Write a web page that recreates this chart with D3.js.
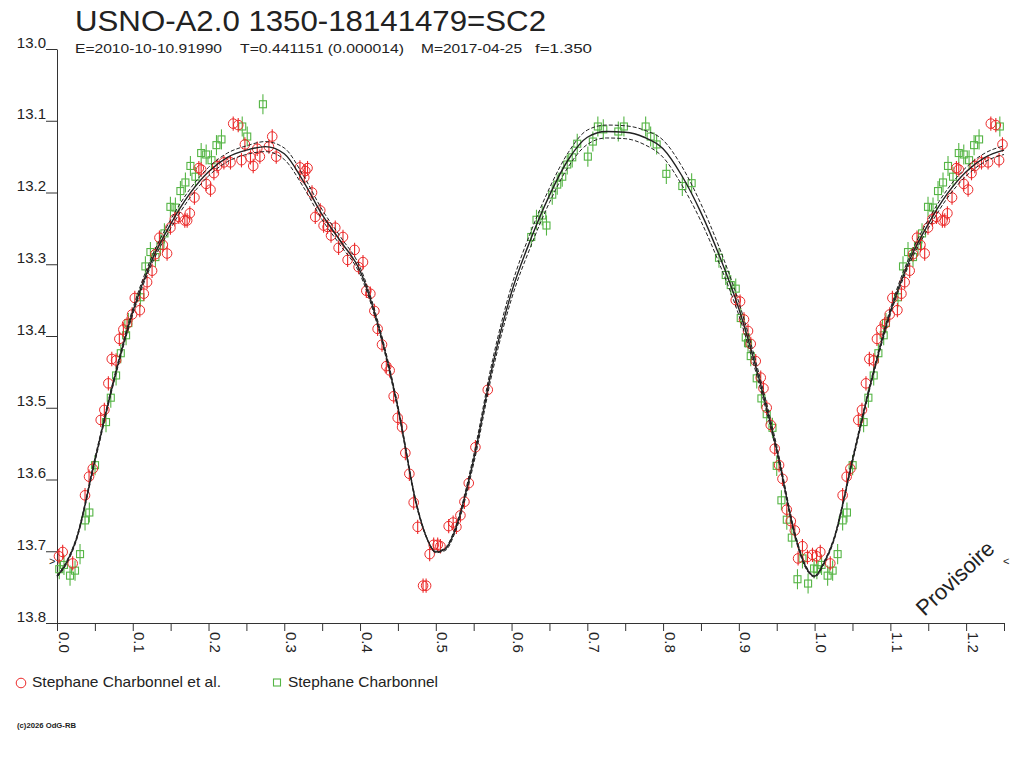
<!DOCTYPE html>
<html>
<head>
<meta charset="utf-8">
<script src="https://cdn.jsdelivr.net/npm/d3@7"></script>
<style>
  body { margin: 0; background: #fff; }
  svg { display: block; }
  text { font-family: "Liberation Sans", Arial, sans-serif; fill: #222; }
</style>
</head>
<body>
<svg id="chart" width="1024" height="768"></svg>
<script>
// tick labels
const yTicks = [13.0, 13.1, 13.2, 13.3, 13.4, 13.5, 13.6, 13.7, 13.8];
const xTicks = [0.0, 0.1, 0.2, 0.3, 0.4, 0.5, 0.6, 0.7, 0.8, 0.9, 1.0, 1.1, 1.2];

// legend names
const seriesNames = ["Stephane Charbonnel et al.", "Stephane Charbonnel"];

// observations [phase, magnitude]
const redObs = [
  [.0026,13.707],[.0075,13.701],[.0207,13.717],[.0370,13.622],[.0423,13.596],[.0472,13.585],
  [.0577,13.517],[.0625,13.503],[.0678,13.466],[.0723,13.432],[.078,13.434],[.0823,13.404],
  [.0876,13.391],[.0925,13.383],[.0991,13.370],[.1027,13.347],[.1093,13.364],[.1146,13.341],
  [.1189,13.325],[.1255,13.309],[.1299,13.286],[.1352,13.263],[.1397,13.273],[.1453,13.285],
  [.1497,13.249],[.1555,13.237],[.1608,13.234],[.1687,13.239],[.1718,13.239],[.1753,13.229],
  [.1814,13.207],[.1872,13.166],[.1903,13.168],[.1969,13.188],[.2026,13.196],[.2071,13.173],
  [.2114,13.163],[.2203,13.158],[.229,13.158],[.2326,13.104],[.2392,13.106],[.248,13.133],
  [.2435,13.155],[.2554,13.151],[.259,13.163],[.2643,13.139],[.2678,13.150],[.2797,13.136],
  [.2841,13.122],[.2894,13.150],[.3207,13.165],[.3277,13.170],[.3264,13.179],[.3307,13.166],
  [.3366,13.200],[.3475,13.225],[.3409,13.234],[.3519,13.246],[.3572,13.248],[.3673,13.249],
  [.3617,13.260],[.3775,13.262],[.3717,13.277],[.3928,13.280],[.3836,13.294],[.4039,13.297],
  [.3981,13.304],[.4083,13.337],[.4136,13.341],[.4189,13.365],[.4232,13.390],[.4290,13.412],
  [.4347,13.442],[.4391,13.448],[.4444,13.484],[.4497,13.514],[.4555,13.527],[.4598,13.563],
  [.4651,13.592],[.4708,13.632],[.4761,13.666],[.4919,13.704],[.4832,13.748],[.4872,13.748],
  [.4972,13.691],[.5025,13.691],[.5061,13.693],[.517,13.665],[.5229,13.660],[.5272,13.666],
  [.5325,13.650],[.5378,13.631],[.5435,13.605],[.5523,13.555],[.5686,13.475],
  [.8959,13.350],[.9016,13.352],[.9068,13.377],[.9121,13.393],[.9157,13.411],[.9223,13.435],
  [.9289,13.458],[.9325,13.473],[.9368,13.500],[.9421,13.524],[.9474,13.557],[.9531,13.580],
  [.9576,13.599],[.9633,13.642],[.9686,13.658],[.9739,13.671],[.984,13.693],[.9782,13.710],
  [.9906,13.708],[.9972,13.705]
];
const greenObs = [
  [.0030,13.725],[.0092,13.719],[.0172,13.734],[.0238,13.727],[.0304,13.704],[.0370,13.657],
  [.0427,13.646],[.0502,13.580],[.0647,13.520],[.0710,13.486],[.078,13.455],[.0842,13.424],
  [.0912,13.399],[.0942,13.382],[.1101,13.346],[.1167,13.303],[.1233,13.283],[.1299,13.290],
  [.1365,13.274],[.1418,13.257],[.1497,13.220],[.1563,13.221],[.1629,13.198],[.1695,13.186],
  [.1761,13.163],[.1827,13.178],[.1903,13.145],[.1969,13.147],[.2039,13.155],[.2105,13.134],
  [.2171,13.126],[.2445,13.108],[.2511,13.122],[.2718,13.077],
  [.626,13.262],[.6329,13.238],[.6405,13.232],[.6461,13.246],[.6537,13.203],[.6603,13.189],
  [.6669,13.178],[.6735,13.161],[.6801,13.151],[.6867,13.132],[.7007,13.150],[.7073,13.129],
  [.7139,13.108],[.7211,13.112],[.7409,13.115],[.7483,13.108],[.777,13.108],[.7836,13.122],
  [.7915,13.133],[.8043,13.174],[.8254,13.191],[.8377,13.187],[.8738,13.291],[.8827,13.315],
  [.8893,13.329],[.8959,13.334],[.9025,13.375],[.9091,13.402],[.9121,13.410],[.9157,13.428],
  [.9236,13.459],[.9298,13.487],[.9368,13.509],[.9444,13.528],[.95,13.581],[.9562,13.629],
  [.9633,13.656],[.9699,13.681],[.9774,13.739],[.9914,13.745],[.984,13.710],[.9993,13.724]
];
const redErr = 0.010;
const greenErr = 0.014;

// fitted light curve (solid) and its envelope (dashed)
const modelPhase = [0,.0125,.025,.05,.075,.1,.125,.15,.175,.2,.225,.25,.275,.3,.325,.35,.375,.4,.425,.45,
  .475,.4875,.5,.5125,.525,.55,.575,.6,.625,.65,.675,.7,.725,.75,.775,.8,.825,.85,.875,.9,.925,.95,.975,.9875,1];
const modelMid = [13.735,13.716,13.685,13.573,13.462,13.366,13.295,13.244,13.202,13.171,13.151,13.141,13.136,13.146,
  13.184,13.231,13.269,13.309,13.389,13.500,13.637,13.680,13.701,13.697,13.672,13.572,13.441,13.339,13.266,13.204,
  13.154,13.123,13.115,13.116,13.123,13.139,13.177,13.228,13.290,13.362,13.453,13.558,13.681,13.720,13.735];
const modelUp = [13.734,13.714,13.683,13.570,13.459,13.362,13.290,13.238,13.196,13.165,13.145,13.135,13.129,13.138,
  13.176,13.224,13.263,13.304,13.385,13.497,13.635,13.679,13.700,13.695,13.669,13.566,13.433,13.330,13.256,13.194,
  13.144,13.113,13.106,13.107,13.113,13.127,13.164,13.216,13.279,13.353,13.446,13.553,13.678,13.718,13.734];
const modelLow = [13.736,13.718,13.687,13.576,13.465,13.370,13.300,13.250,13.208,13.177,13.157,13.147,13.143,13.154,
  13.192,13.238,13.275,13.314,13.393,13.503,13.639,13.681,13.702,13.699,13.675,13.578,13.449,13.348,13.276,13.214,
  13.164,13.133,13.124,13.125,13.133,13.151,13.190,13.240,13.301,13.371,13.460,13.563,13.684,13.722,13.736];

const red = "#ec2a2a";
const green = "#55b545";
const ink = "#222";

const svg = d3.select("#chart");
const x = d3.scaleLinear().domain([0, 1.25]).range([57, 1004]);
const y = d3.scaleLinear().domain([13.0, 13.8]).range([49, 623]);

// phases 0..0.25 are repeated after 1.0
const wrap = d => d[0] <= 0.25 ? [d, [d[0] + 1, d[1]]] : [d];
const redAll = redObs.flatMap(wrap);
const greenAll = greenObs.flatMap(wrap);
function extend(mags) {
  const pts = modelPhase.map((p, i) => [p, mags[i]]);
  return pts.concat(pts.filter(d => d[0] > 0 && d[0] <= 0.25).map(d => [d[0] + 1, d[1]]));
}

// Title
svg.append("text").attr("x", 75).attr("y", 31)
  .attr("font-size", 29).attr("textLength", 471).attr("lengthAdjust", "spacingAndGlyphs")
  .text("USNO-A2.0 1350-18141479=SC2");
const sub = [
  ["E=2010-10-10.91990", 75, 147],
  ["T=0.441151 (0.000014)", 240, 164],
  ["M=2017-04-25", 421, 101],
  ["f=1.350", 535, 57]
];
svg.selectAll(".sub").data(sub).enter().append("text")
  .attr("x", d => d[1]).attr("y", 53).attr("font-size", 13).attr("fill", "#333")
  .attr("textLength", d => d[2]).attr("lengthAdjust", "spacingAndGlyphs")
  .text(d => d[0]);

// Y axis
const yAxis = svg.append("g").attr("transform", "translate(57,0)")
  .call(d3.axisLeft(y).tickValues(yTicks).tickSize(11).tickSizeOuter(0).tickFormat(d3.format(".1f")));
yAxis.select(".domain").attr("stroke", "#333");
yAxis.selectAll(".tick line").attr("stroke", "#333");
yAxis.selectAll(".tick text")
  .attr("x", -11).attr("dy", -2).attr("font-size", 15).attr("fill", "#333")
  .style("font-family", "'Liberation Sans', Arial, sans-serif");

// X axis
const xMinor = d3.range(0, 26).map(i => i * 0.05);
const xAxis = svg.append("g").attr("transform", "translate(0,623)")
  .call(d3.axisBottom(x).tickValues(xMinor).tickSize(8).tickSizeOuter(0)
    .tickFormat(d => xTicks.some(t => Math.abs(t - d) < 1e-6) ? d3.format(".1f")(d) : ""));
xAxis.select(".domain").attr("stroke", "#333");
xAxis.selectAll(".tick line").attr("stroke", "#333");
xAxis.selectAll(".tick text")
  .attr("transform", "rotate(90)").attr("x", 9).attr("y", -1).attr("dy", 0)
  .attr("text-anchor", "start").attr("font-size", 15).attr("fill", "#333")
  .style("font-family", "'Liberation Sans', Arial, sans-serif");

// Observations: green squares
const gG = svg.append("g");
gG.selectAll("line").data(greenAll).enter().append("line")
  .attr("x1", d => x(d[0])).attr("x2", d => x(d[0]))
  .attr("y1", d => y(d[1] - greenErr)).attr("y2", d => y(d[1] + greenErr))
  .attr("stroke", green).attr("stroke-width", 1.1);
gG.selectAll("rect").data(greenAll).enter().append("rect")
  .attr("x", d => x(d[0]) - 3.5).attr("y", d => y(d[1]) - 3.5)
  .attr("width", 7).attr("height", 7)
  .attr("fill", "none").attr("stroke", green).attr("stroke-width", 1.1);

// Observations: red circles
const gR = svg.append("g");
gR.selectAll("line").data(redAll).enter().append("line")
  .attr("x1", d => x(d[0])).attr("x2", d => x(d[0]))
  .attr("y1", d => y(d[1] - redErr)).attr("y2", d => y(d[1] + redErr))
  .attr("stroke", red).attr("stroke-width", 1.1);
gR.selectAll("circle").data(redAll).enter().append("circle")
  .attr("cx", d => x(d[0])).attr("cy", d => y(d[1])).attr("r", 4.8)
  .attr("fill", "none").attr("stroke", red).attr("stroke-width", 1);

// Model curves
const line = d3.line().x(d => x(d[0])).y(d => y(d[1])).curve(d3.curveMonotoneX);
[modelUp, modelLow].forEach(m => {
  svg.append("path").datum(extend(m)).attr("d", line)
    .attr("fill", "none").attr("stroke", ink).attr("stroke-width", 1)
    .attr("stroke-dasharray", "4,2");
});
svg.append("path").datum(extend(modelMid)).attr("d", line)
  .attr("fill", "none").attr("stroke", ink).attr("stroke-width", 1.4);

// Side markers
svg.append("text").attr("x", 49).attr("y", 565).attr("font-size", 11).text(">");
svg.append("text").attr("x", 1003).attr("y", 565).attr("font-size", 11).text("<");

// Provisoire
svg.append("text").attr("transform", "translate(955,578) rotate(-43)")
  .attr("text-anchor", "middle").attr("dy", "0.35em").attr("font-size", 22)
  .text("Provisoire");

// Legend
svg.append("circle").attr("cx", 21).attr("cy", 683).attr("r", 4.8)
  .attr("fill", "none").attr("stroke", red).attr("stroke-width", 1);
svg.append("text").attr("x", 32).attr("y", 687).attr("font-size", 14.5)
  .attr("textLength", 189).attr("lengthAdjust", "spacingAndGlyphs").text(seriesNames[0]);
svg.append("rect").attr("x", 273.5).attr("y", 679).attr("width", 7).attr("height", 7)
  .attr("fill", "none").attr("stroke", green).attr("stroke-width", 1.1);
svg.append("text").attr("x", 288).attr("y", 687).attr("font-size", 14.5)
  .attr("textLength", 150).attr("lengthAdjust", "spacingAndGlyphs").text(seriesNames[1]);

// Copyright
svg.append("text").attr("x", 17).attr("y", 728).attr("font-size", 7.5).attr("font-weight", "bold")
  .attr("textLength", 59).attr("lengthAdjust", "spacingAndGlyphs").text("(c)2026 OdG-RB");
</script>
</body>
</html>
